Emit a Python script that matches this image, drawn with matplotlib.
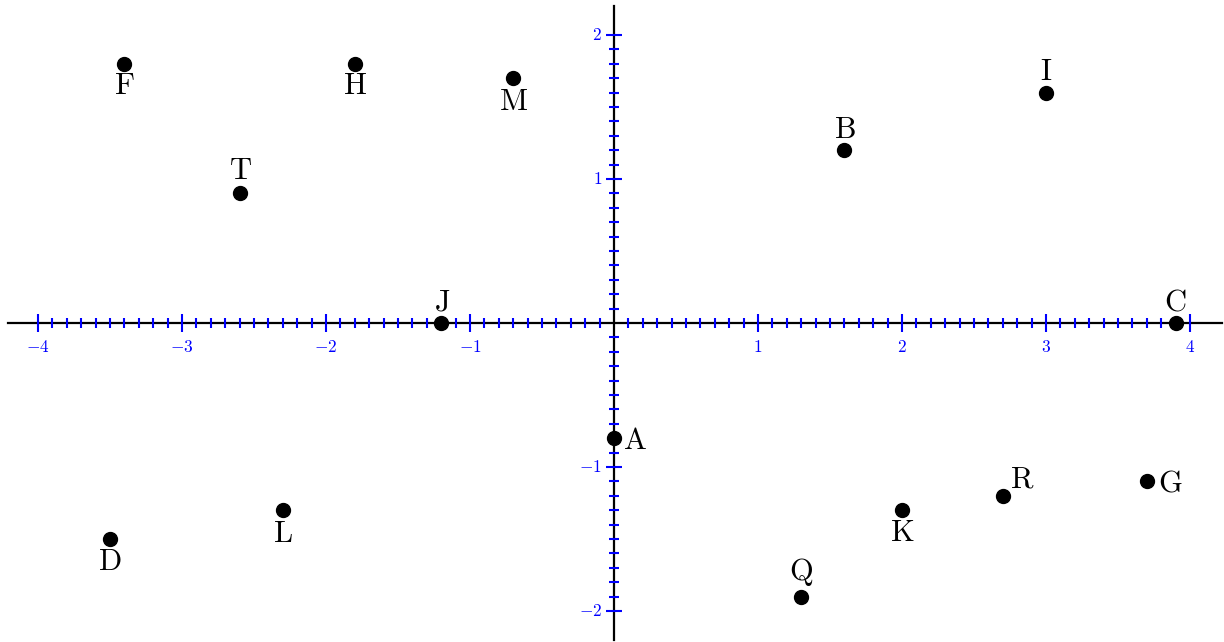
import numpy as np
import matplotlib
matplotlib.use("Agg")
import matplotlib.pyplot as plt

plt.rcParams['mathtext.fontset'] = 'cm'

names = ['F', 'H', 'M', 'T', 'J', 'B', 'I', 'C', 'A', 'R', 'G', 'K', 'Q', 'D', 'L']
xs = [-3.4, -1.8, -0.7, -2.6, -1.2, 1.6, 3.0, 3.9, 0.0, 2.7, 3.7, 2.0, 1.3, -3.5, -2.3]
ys = [1.8, 1.8, 1.7, 0.9, 0.0, 1.2, 1.6, 0.0, -0.8, -1.2, -1.1, -1.3, -1.9, -1.5, -1.3]
# label offset directions (pixels)
offsets = {
    'F': (0, -22), 'H': (0, -22), 'M': (0, -23), 'T': (1, 23), 'J': (1, 21),
    'B': (0, 21), 'I': (0, 21), 'C': (0, 21), 'A': (21, -2), 'R': (19, 17),
    'G': (23, -2), 'K': (0, -22), 'Q': (0, 25), 'D': (0, -22), 'L': (0, -23),
}
x_major = [-4, -3, -2, -1, 1, 2, 3, 4]
y_major = [-2, -1, 1, 2]

fig = plt.figure(figsize=(12.24, 6.42), dpi=100)
ax = fig.add_axes([0, 0, 1, 1])
ax.set_xlim(-4.264, 4.236)
ax.set_ylim(-2.215, 2.243)
ax.axis('off')

blue = '#0000ff'
# axes lines
ax.plot([-4.21, 4.22], [0, 0], color='black', lw=1.6, zorder=2)
ax.plot([0, 0], [-2.2, 2.2], color='black', lw=1.6, zorder=2)

# minor ticks
xm = [k / 10 for k in range(-40, 41) if k % 10 != 0]
ym = [k / 10 for k in range(-20, 21) if k % 10 != 0]
ax.plot(xm, [0] * len(xm), ls='none', marker='|', ms=6.5, mew=1.5, color=blue, zorder=3)
ax.plot([0] * len(ym), ym, ls='none', marker='_', ms=7, mew=1.5, color=blue, zorder=3)
# major ticks
ax.plot(x_major, [0] * len(x_major), ls='none', marker='|', ms=12.5, mew=1.5, color=blue, zorder=3)
ax.plot([0] * len(y_major), y_major, ls='none', marker='_', ms=11.5, mew=1.5, color=blue, zorder=3)

for v in x_major:
    ax.annotate(r'$%d$' % v, (v, 0), xytext=(0, -24), textcoords='offset pixels',
                ha='center', va='center', color=blue, fontsize=12.5)
for v in y_major:
    ax.annotate(r'$%d$' % v, (0, v), xytext=(-12, 0), textcoords='offset pixels',
                ha='right', va='center', color=blue, fontsize=12.5)

ax.plot(xs, ys, ls='none', marker='o', ms=10, color='black', zorder=4)
for n, x, y in zip(names, xs, ys):
    dx, dy = offsets[n]
    ax.annotate(r'$\mathrm{%s}$' % n, (x, y), xytext=(dx, dy), textcoords='offset pixels',
                ha='center', va='center', color='black', fontsize=22)

fig.savefig('out.png', dpi=100)
